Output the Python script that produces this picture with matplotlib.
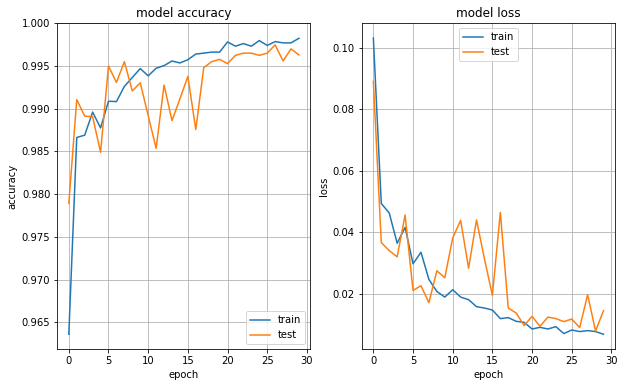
import matplotlib
matplotlib.use("Agg")
import matplotlib.pyplot as plt

epochs = list(range(30))

train_acc = [0.9636, 0.98663, 0.98690, 0.9896, 0.98775, 0.99087, 0.99083, 0.99261, 0.99365, 0.99469,
             0.99384, 0.99473, 0.99504, 0.99558, 0.99535, 0.99573, 0.99639, 0.99650, 0.99662, 0.99662,
             0.99781, 0.99731, 0.99762, 0.99731, 0.99797, 0.99740, 0.99785, 0.99770, 0.99770, 0.99824]
test_acc = [0.97891, 0.99106, 0.98913, 0.98906, 0.98490, 0.99500, 0.99307, 0.99550, 0.99207, 0.99303,
            0.98920, 0.98536, 0.99277, 0.98860, 0.99115, 0.99377, 0.98756, 0.99480, 0.99550, 0.99577,
            0.99527, 0.99624, 0.99650, 0.99650, 0.99624, 0.99650, 0.99747, 0.99558, 0.99700, 0.99628]

train_loss = [0.1031, 0.04934, 0.04623, 0.03639, 0.04157, 0.02972, 0.03347, 0.02463, 0.02074, 0.0189,
              0.0213, 0.0189, 0.01806, 0.01579, 0.01534, 0.01469, 0.01190, 0.01223, 0.01103, 0.0107,
              0.00853, 0.00908, 0.00853, 0.0093, 0.00704, 0.00821, 0.00769, 0.00801, 0.00769, 0.00682]
test_loss = [0.0890, 0.03661, 0.03402, 0.03198, 0.04559, 0.02107, 0.02259, 0.01709, 0.02745, 0.02518,
             0.03814, 0.04384, 0.02829, 0.04397, 0.03133, 0.01945, 0.04643, 0.01534, 0.01372, 0.00964,
             0.01265, 0.00941, 0.01242, 0.0119, 0.01093, 0.01177, 0.0090, 0.01967, 0.00788, 0.01449]

fig = plt.figure(figsize=(625/72, 387/72), dpi=72)
fig.subplots_adjust(left=0.0917, right=0.984, bottom=0.098, top=0.94, wspace=0.203)

ax = fig.add_subplot(1, 2, 1)
ax.plot(epochs, train_acc)
ax.plot(epochs, test_acc)
ax.set_ylim(top=1.0)
ax.set_title('model accuracy')
ax.set_ylabel('accuracy')
ax.set_xlabel('epoch')
ax.legend(['train', 'test'], loc='lower right')
ax.grid(True)

ax = fig.add_subplot(1, 2, 2)
ax.plot(epochs, train_loss)
ax.plot(epochs, test_loss)
ax.set_title('model loss')
ax.set_ylabel('loss')
ax.set_xlabel('epoch')
ax.legend(['train', 'test'], loc='upper center')
ax.grid(True)

plt.savefig('out.png', dpi=72)
